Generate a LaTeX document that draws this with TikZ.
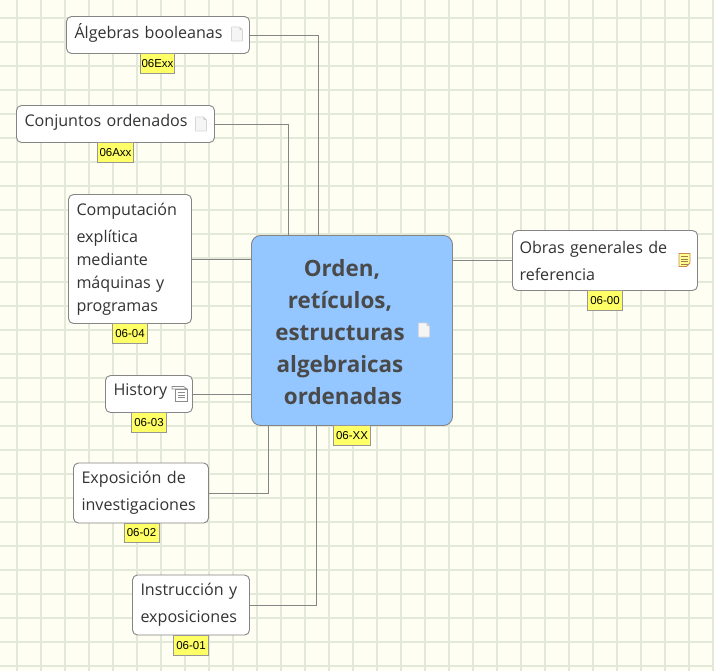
\documentclass[tikz,border=0pt]{standalone}
\usepackage{fontspec}
\setmainfont{Open Sans}
\newfontfamily\tagfont{Liberation Sans}
\definecolor{bgc}{HTML}{FEFFF2}
\definecolor{gridc}{HTML}{E2E9D8}
\definecolor{bluec}{HTML}{94C6FF}
\definecolor{tagc}{HTML}{FFFF66}
\definecolor{edgec}{HTML}{858585}
\definecolor{txtc}{HTML}{333333}
\definecolor{censc}{HTML}{4A4A4A}
\tikzset{
  x=1pt,y=-1pt,
  box/.style={draw=edgec,fill=white,line width=.9pt,rounded corners=5pt,inner xsep=8pt,inner ysep=0pt,align=left,text=txtc,font=\fontsize{16.1}{23}\selectfont,execute at begin node={\vspace*{4pt}}},
  central/.style={draw=edgec,fill=bluec,line width=.9pt,rounded corners=9pt,inner sep=0pt,minimum width=201pt,minimum height=190pt},
  centertext/.style={align=center,text=censc,inner sep=0pt,font=\fontsize{22.4}{32}\selectfont\bfseries},
  tagbox/.style={draw=edgec!85,fill=tagc,line width=.8pt,inner sep=0pt,minimum height=19.5pt,text=black,font=\tagfont\fontsize{11.5}{13}\selectfont},
  link/.style={draw=edgec,line width=.9pt},
  pics/docicon/.style={code={
    \path[fill=black!4,draw=black!16,line width=.6pt,rounded corners=.5pt] (-5.5,-7)--(2.5,-7)--(5.5,-4)--(5.5,7)--(-5.5,7)--cycle;
    \path[fill=black!20] (2.5,-7)--(5.5,-4)--(2.5,-4)--cycle;
  }},
  pics/noteicon/.style={code={
    \path[fill=tagc!70,draw=black!30!orange!70,line width=.9pt] (-5.5,-6.5)--(5.5,-6.5)--(5.5,3)--(2,6.5)--(-5.5,6.5)--cycle;
    \foreach \yy in {-3.5,-1,1.5,4}{\path[draw=black!50!orange!70,line width=.7pt] (-3.5,\yy)--(3.5,\yy);}
  }},
  pics/histicon/.style={code={
    \path[fill=white,draw=black!45,line width=.7pt] (-7.5,-7.5)--(4,-7.5)--(7.5,-5)--(-7.5,-5)--cycle;
    \path[fill=white,draw=black!45,line width=.7pt] (-4,-5)--(7.5,-5)--(7.5,7.5)--(-4,7.5)--cycle;
    \foreach \yy in {-1.5,1,3.5}{\path[draw=black!45,line width=.7pt] (-1.5,\yy)--(5,\yy);}
  }},
}
\begin{document}
\begin{tikzpicture}
\useasboundingbox (0,0) rectangle (714,671);
\fill[bgc] (0,0) rectangle (714,671);
\foreach \gx in {17,41,...,713}{\draw[gridc,line width=1.5pt] (\gx,0)--(\gx,671);}
\foreach \gy in {18,42,...,666}{\draw[gridc,line width=1.5pt] (0,\gy)--(714,\gy);}

\node[central] (cen) at (352,330.5) {};
\node[centertext] (centxt) at (340,332) {\hspace*{4pt}Orden,\\retículos,\\estructuras\\algebraicas\\\hspace*{6pt}ordenadas};
\pic at (424,330) {docicon};

\node[box,text width=167pt,minimum height=37pt] (alg) at (158,35) {Álgebras booleanas};
\node[box,text width=182pt,minimum height=37pt] (con) at (115.5,124) {Conjuntos ordenados};
\node[box,text width=107pt,minimum height=129pt] (com) at (130,259) {Computación\\explítica\\mediante\\máquinas y\\programas};
\node[box,inner xsep=7pt,text width=171pt,minimum height=60pt] (obr) at (605,260.5) {Obras generales de\\referencia};
\node[box,text width=71pt,minimum height=37pt] (his) at (149,394) {History};
\node[box,text width=119pt,minimum height=60pt] (exp) at (141,493) {Exposición de\\investigaciones};
\node[box,text width=101pt,minimum height=60pt] (ins) at (191,605) {Instrucción y\\exposiciones};

\pic at (237,34) {docicon};
\pic at (201,124) {docicon};
\pic at (684.5,260) {noteicon};
\pic at (179.5,394) {histicon};

\node[tagbox,minimum width=33.5pt] (talg) at (157.5,63.5) {06Exx};
\node[tagbox,minimum width=35.5pt] (tcon) at (115.5,152.5) {06Axx};
\node[tagbox,minimum width=35pt] (tcom) at (130,333.5) {06-04};
\node[tagbox,minimum width=35pt] (tobr) at (605,300.5) {06-00};
\node[tagbox,minimum width=35pt] (this) at (149,422.5) {06-03};
\node[tagbox,minimum width=35pt] (texp) at (141.5,533) {06-02};
\node[tagbox,minimum width=35pt] (tins) at (191,645.5) {06-01};
\node[tagbox,minimum width=37pt] (tcen) at (352,435.5) {06-XX};

\draw[link] (alg.east) -| ([xshift=67.5pt]cen.north west);
\draw[link] (con.east) -| ([xshift=37pt]cen.north west);
\draw[link] (com.east) -- (com.east -| cen.west);
\draw[link] (his.east) -- (his.east -| cen.west);
\draw[link] (exp.east) -| ([xshift=17pt]cen.south west);
\draw[link] (ins.east) -| ([xshift=65pt]cen.south west);
\draw[link] (cen.east |- obr.west) -- (obr.west);
\end{tikzpicture}
\end{document}
